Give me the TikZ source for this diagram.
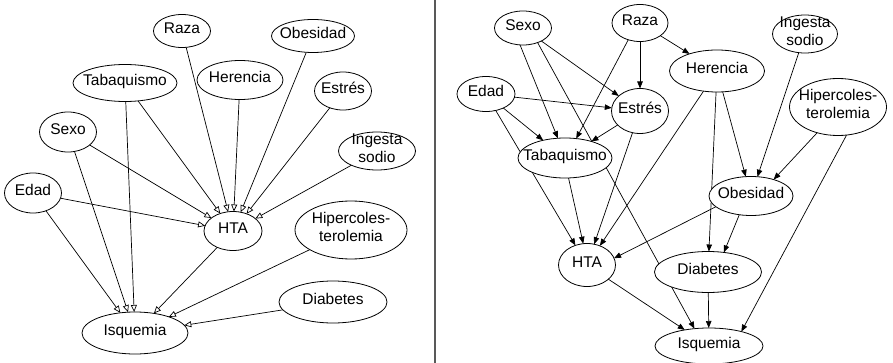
\documentclass[tikz,border=0pt]{standalone}
\usepackage{fontspec}
\setmainfont{Liberation Sans}
\usetikzlibrary{shapes.geometric,arrows.meta,backgrounds}
\newcommand\tx[1]{\raisebox{-5.5pt}{\smash{\makebox[0pt]{\begin{tabular}[c]{@{}c@{}}#1\end{tabular}}}}}
\begin{document}
\begin{tikzpicture}[x=1pt,y=-1pt,
  nd/.style={ellipse,draw,fill=white,line width=0.8pt,inner sep=0pt,outer sep=0pt,font=\fontsize{15.5}{18}\selectfont},
  sz/.style 2 args={minimum width=#1pt,minimum height=#2pt},
  opn/.style={line width=0.7pt,-{Triangle[open,length=7pt,width=6pt]}},
  fil/.style={line width=0.7pt,-{Triangle[length=7pt,width=5.5pt]}},
  divider/.style={line width=1.2pt,draw=black!65}]
\useasboundingbox (0,0) rectangle (893,363);
% ---------- left panel ----------
\node[nd,sz={57}{33}]  (Lraza) at (182,31)  {\tx{Raza}};
\node[nd,sz={83}{33}]  (Lobes) at (313,36)  {\tx{Obesidad}};
\node[nd,sz={104}{37}] (Ltab)  at (125,83)  {\tx{Tabaquismo}};
\node[nd,sz={86}{39}]  (Lher)  at (240,80)  {\tx{Herencia}};
\node[nd,sz={57}{38}]  (Lest)  at (343,91)  {\tx{Estrés}};
\node[nd,sz={57}{40}]  (Lsexo) at (68,132)  {\tx{Sexo}};
\node[nd,sz={77}{38}]  (Ling)  at (377,151) {\tx{Ingesta\\sodio}};
\node[nd,sz={57}{40}]  (Ledad) at (33,193)  {\tx{Edad}};
\node[nd,sz={58}{39}]  (Lhta)  at (233,231) {\tx{HTA}};
\node[nd,sz={112}{58}] (Lhip)  at (351,230) {\tx{Hipercoles-\\terolemia}};
\node[nd,sz={108}{42}] (Ldia)  at (333,302) {\tx{Diabetes}};
\node[nd,sz={106}{42}] (Lisq)  at (135,333) {\tx{Isquemia}};
% ---------- right panel ----------
\node[nd,sz={57}{34}]  (Rsexo) at (523,28)  {\tx{Sexo}};
\node[nd,sz={56}{37}]  (Rraza) at (640,23)  {\tx{Raza}};
\node[nd,sz={65}{38}]  (Ring)  at (805,34)  {\tx{Ingesta\\sodio}};
\node[nd,sz={95}{42}]  (Rher)  at (717,71)  {\tx{Herencia}};
\node[nd,sz={58}{35}]  (Redad) at (486,94)  {\tx{Edad}};
\node[nd,sz={57}{45}]  (Rest)  at (640,111) {\tx{Estrés}};
\node[nd,sz={97}{57}]  (Rhip)  at (838,107) {\tx{Hipercoles-\\terolemia}};
\node[nd,sz={94}{40}]  (Rtab)  at (565,158) {\tx{Tabaquismo}};
\node[nd,sz={84}{39}]  (Robes) at (751,196) {\tx{Obesidad}};
\node[nd,sz={57}{43}]  (Rhta)  at (587,265) {\tx{HTA}};
\node[nd,sz={107}{41}] (Rdia)  at (708,272) {\tx{Diabetes}};
\node[nd,sz={108}{36}] (Risq)  at (709,346) {\tx{Isquemia}};
\coordinate (dtop) at (435,0);
\coordinate (dbot) at (435,363);
\begin{scope}[on background layer]
  % left edges
  \foreach \s in {Ledad,Lsexo,Ltab,Lraza,Lher,Lobes,Lest,Ling}
    \draw[opn] (\s) -- (Lhta);
  \foreach \s in {Ledad,Lsexo,Ltab,Lhta,Lhip,Ldia}
    \draw[opn] (\s) -- (Lisq);
  % right edges
  \draw[fil] (Rsexo.260) -- (Rtab.110);
  \draw[fil] (Rsexo) -- (Rest);
  \draw[fil] (Rsexo.-45) -- (Risq.130);
  \draw[fil] (Rraza) -- (Rest);
  \draw[fil] (Rraza) -- (Rher);
  \draw[fil] (Rraza.235) -- (Rtab.60);
  \draw[fil] (Redad) -- (Rest);
  \draw[fil] (Redad) -- (Rtab);
  \draw[fil] (Redad) -- (Rhta);
  \draw[fil] (Rest) -- (Rtab);
  \draw[fil] (Rest) -- (Rhta);
  \draw[fil] (Rtab.-80) -- (Rhta.100);
  \draw[fil] (Rher) -- (Rhta);
  \draw[fil] (Rher) -- (Rdia);
  \draw[fil] (Rher) -- (Robes);
  \draw[fil] (Ring) -- (Robes);
  \draw[fil] (Rhip.231) -- (Robes.36);
  \draw[fil] (Rhip.287) -- (Risq.24);
  \draw[fil] (Robes.197) -- (Rhta.14);
  \draw[fil] (Robes.238) -- (Rdia.51);
  \draw[fil] (Rhta) -- (Risq);
  \draw[fil] (Rdia) -- (Risq);
\end{scope}
\draw[divider] (dtop) -- (dbot);
\end{tikzpicture}
\end{document}
